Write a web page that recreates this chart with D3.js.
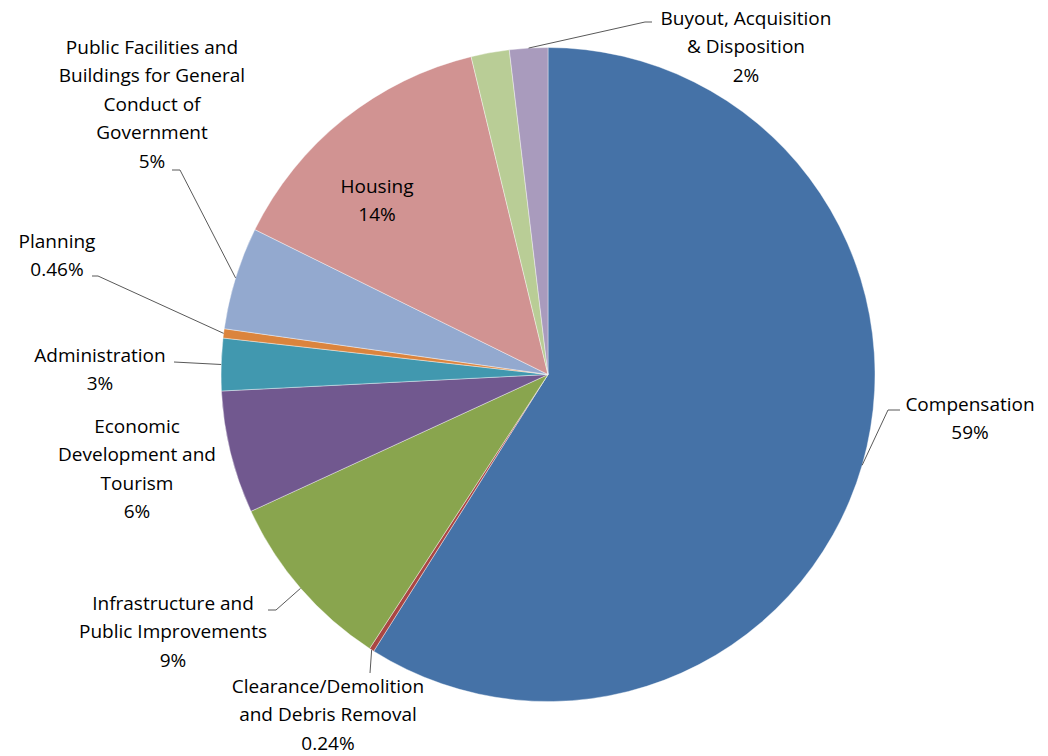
<!DOCTYPE html>
<html>
<head>
<meta charset="utf-8">
<script src="https://cdn.jsdelivr.net/npm/d3@7"></script>
<style>
  html, body { margin: 0; padding: 0; background: #fff; }
  svg text { font-family: "Open Sans", Lato, sans-serif; fill: #000; }
</style>
</head>
<body>
<svg id="chart" width="1048" height="756"></svg>
<script>
// Spending by activity (percent of total)
const categories = [
  "Compensation",
  "Clearance/Demolition and Debris Removal",
  "Infrastructure and Public Improvements",
  "Economic Development and Tourism",
  "Administration",
  "Planning",
  "Public Facilities and Buildings for General Conduct of Government",
  "Housing",
  "Other",
  "Buyout, Acquisition & Disposition"
];
const values = [59.3, 0.24, 9.0, 6.1, 2.6, 0.46, 5.1, 14.0, 1.9, 1.9];
const colors = ["#4572A7", "#AA4643", "#89A54E", "#71588F", "#4198AF",
                "#DB843D", "#93A9CF", "#D19392", "#B9CD96", "#A99BBD"];

// Wrapped label lines for each category (empty = no label)
const labelLines = [
  ["Compensation"],
  ["Clearance/Demolition", "and Debris Removal"],
  ["Infrastructure and", "Public Improvements"],
  ["Economic", "Development and", "Tourism"],
  ["Administration"],
  ["Planning"],
  ["Public Facilities and", "Buildings for General", "Conduct of", "Government"],
  ["Housing"],
  [],
  ["Buyout, Acquisition", "& Disposition"]
];

// Label placement: text centre x, first line centre y, and leader elbow points
const labelLayout = [
  { x: 970, y: 404, leader: [[900, 410], [888, 410]] },
  { x: 328, y: 686, leader: [[370, 673]] },
  { x: 173, y: 603, leader: [[268, 610], [276, 610]] },
  { x: 137, y: 426, leader: null },
  { x: 100, y: 355, leader: [[174, 362]] },
  { x: 57,  y: 241, leader: [[92, 276], [98, 276]] },
  { x: 152, y: 47,  leader: [[172, 170], [180, 170]] },
  { x: 377, y: 186, leader: null },
  null,
  { x: 746, y: 18,  leader: [[652, 22], [645, 22]] }
];

const fmt = v => v < 1 ? v + "%" : Math.round(v) + "%";

const svg = d3.select("#chart");
const cx = 548, cy = 374.5, radius = 327;
const lineH = 28.6;

const pie = d3.pie().sort(null).value(d => d)(values);
const arc = d3.arc().innerRadius(0).outerRadius(radius);

const g = svg.append("g").attr("transform", `translate(${cx},${cy})`);

g.selectAll("path.slice")
  .data(pie)
  .join("path")
  .attr("class", "slice")
  .attr("d", arc)
  .attr("fill", (d, i) => colors[i])
  .attr("stroke", "#fff")
  .attr("stroke-width", 0.4);

// Leader lines from the slice edge to the label
pie.forEach((d, i) => {
  const lay = labelLayout[i];
  if (!lay || !lay.leader) return;
  const mid = (d.startAngle + d.endAngle) / 2;
  const edge = [cx + radius * Math.sin(mid), cy - radius * Math.cos(mid)];
  const pts = lay.leader.concat([edge]);
  svg.append("path")
    .attr("d", d3.line()(pts))
    .attr("fill", "none")
    .attr("stroke", "#595959")
    .attr("stroke-width", 1);
});

// Labels: category lines followed by the percentage
pie.forEach((d, i) => {
  const lay = labelLayout[i];
  if (!lay) return;
  const lines = labelLines[i].concat([fmt(values[i])]);
  const t = svg.append("text")
    .attr("text-anchor", "middle")
    .attr("font-size", 19);
  lines.forEach((s, k) => {
    t.append("tspan")
      .attr("x", lay.x)
      .attr("y", lay.y + k * lineH)
      .attr("dy", "0.35em")
      .text(s);
  });
});
</script>
</body>
</html>
